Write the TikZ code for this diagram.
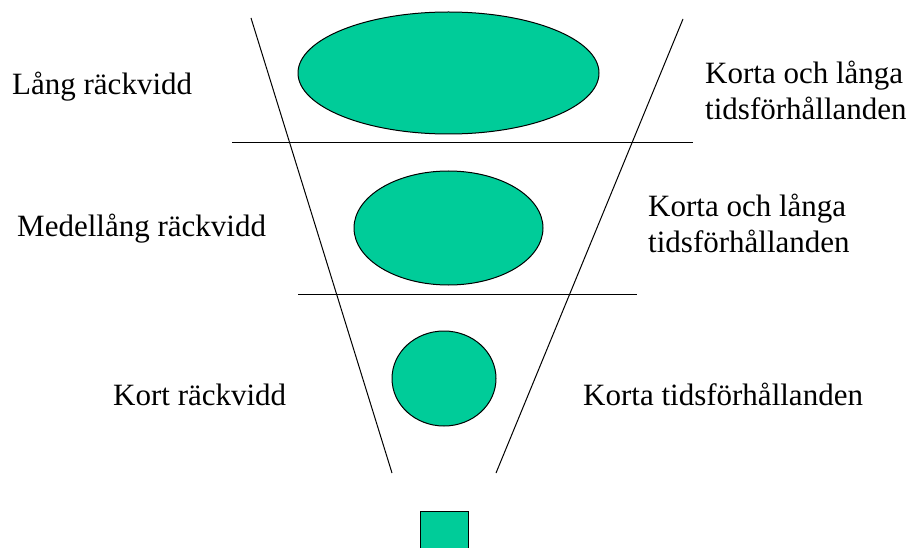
\documentclass[tikz,border=0pt]{standalone}
\usepackage{fontspec}
\setmainfont{Liberation Serif}
\definecolor{funnelgreen}{RGB}{0,204,153}
\begin{document}
\begin{tikzpicture}[x=1pt,y=-1pt,
  lbl/.style={anchor=base west,inner sep=0pt,font=\fontsize{31}{36}\selectfont,align=left},
  blob/.style={draw=black,line width=1pt,fill=funnelgreen},
  rule/.style={draw=black,line width=1pt}]
\useasboundingbox (0,0) rectangle (909,548);
% funnel sides
\coordinate (lt) at (251,18);
\coordinate (lb) at (392,473);
\coordinate (rt) at (683,19);
\coordinate (rb) at (496,473);
\draw[rule] (lt) -- (lb);
\draw[rule] (rt) -- (rb);
% separators
\coordinate (h1a) at (232,143);
\coordinate (h1b) at (693,143);
\coordinate (h2a) at (298,294);
\coordinate (h2b) at (637,294);
\draw[rule] (h1a) -- (h1b);
\draw[rule] (h2a) -- (h2b);
% shapes
\path[blob] (448.5,73) ellipse [x radius=150.5,y radius=61];
\path[blob] (448.5,228) ellipse [x radius=94.5,y radius=57];
\path[blob] (444,378.5) ellipse [x radius=52,y radius=47.5];
\path[blob] (420,511) rectangle (468,560);
% labels
\node[lbl] (l1) at (12,95) {Lång räckvidd};
\node[lbl] (l2) at (17,236) {Medellång räckvidd};
\node[lbl] (l3) at (113,405) {Kort räckvidd};
\node[lbl] (r1) at (705,120) {Korta och långa\\tidsförhållanden};
\node[lbl] (r2) at (648,252) {Korta och långa\\tidsförhållanden};
\node[lbl] (r3) at (583,405) {Korta tidsförhållanden};
\end{tikzpicture}
\end{document}
